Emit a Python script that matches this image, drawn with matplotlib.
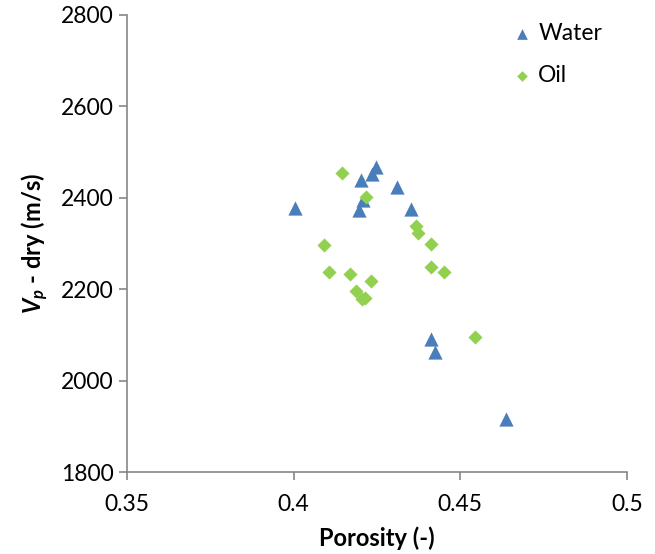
import matplotlib
matplotlib.use("Agg")
import matplotlib.pyplot as plt

water_x = [0.4003, 0.4196, 0.4208, 0.4203, 0.4234, 0.4247, 0.4311, 0.4351, 0.4412, 0.4423, 0.4636]
water_y = [2378, 2374, 2395, 2439, 2451, 2468, 2424, 2375, 2090, 2063, 1915]
oil_x = [0.4145, 0.4218, 0.4091, 0.4105, 0.4168, 0.4231, 0.4187, 0.4204, 0.4215, 0.4366, 0.4373, 0.4411, 0.4413, 0.4450, 0.4545]
oil_y = [2454, 2402, 2296, 2237, 2233, 2219, 2195, 2178, 2180, 2339, 2324, 2298, 2249, 2238, 2096]
x_ticks = [0.35, 0.4, 0.45, 0.5]
x_labels = ["0.35", "0.4", "0.45", "0.5"]
y_ticks = [1800, 2000, 2200, 2400, 2600, 2800]

plt.rcParams['font.family'] = ['Lato', 'DejaVu Sans']
plt.rcParams['mathtext.fontset'] = 'custom'
plt.rcParams['mathtext.rm'] = 'Lato'
plt.rcParams['mathtext.it'] = 'Lato:italic'
plt.rcParams['mathtext.bf'] = 'Lato:bold'
plt.rcParams['mathtext.bfit'] = 'Lato:bold:italic'

fig = plt.figure(figsize=(6.55, 5.54), dpi=100)
ax = fig.add_axes([0.194, 0.148, 0.763, 0.825])
ax.scatter(water_x, water_y, marker='^', s=105, color='#4a7ebb', label='Water', zorder=3, linewidths=0)
ax.scatter(oil_x, oil_y, marker='D', s=52, color='#92d050', label='Oil', zorder=3, linewidths=0)
ax.set_xlim(0.35, 0.5)
ax.set_ylim(1800, 2800)
ax.set_xticks(x_ticks)
ax.set_xticklabels(x_labels)
ax.set_yticks(y_ticks)
for s in ['top', 'right']:
    ax.spines[s].set_visible(False)
for s in ['left', 'bottom']:
    ax.spines[s].set_color('#868686')
    ax.spines[s].set_linewidth(1.2)
ax.tick_params(axis='both', direction='out', length=6, width=1.2, color='#868686', labelsize=16.5, labelcolor='black')
ax.tick_params(axis='x', pad=10)
ax.set_xlabel('Porosity (-)', fontsize=17, fontweight='bold', labelpad=8)
ax.set_ylabel(r'$\mathbfit{V}_{\mathbfit{p}}$ - dry (m/s)', fontsize=17, fontweight='bold', labelpad=8)
leg = ax.legend(loc='upper right', bbox_to_anchor=(0.978, 1.012), frameon=False, fontsize=16.5,
                handletextpad=0.1, labelspacing=0.9, borderaxespad=0.2, handlelength=1.2, markerscale=0.75)
fig.savefig('out.png', dpi=100)
